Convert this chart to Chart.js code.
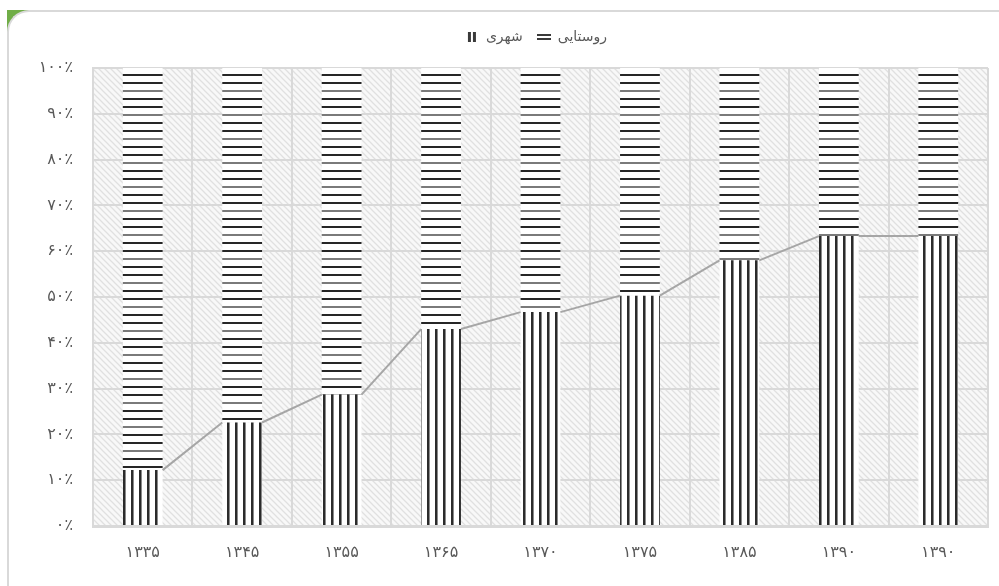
<!DOCTYPE html>
<html lang="fa">
<head>
    <meta charset="UTF-8">
    <title>شهری و روستایی</title>
    <style>
        body {
            margin: 0;
            background: #ffffff;
            overflow: hidden;
        }
        .corner {
            position: absolute;
            left: 7px;
            top: 10px;
            width: 22px;
            height: 22px;
            background: #70ad47;
        }
        .card {
            position: absolute;
            left: 7px;
            top: 10px;
            width: 1010px;
            height: 600px;
            background: #ffffff;
            border-left: 2px solid #d9d9d9;
            border-top: 2px solid #d9d9d9;
            border-top-left-radius: 22px;
        }
        #chart {
            position: absolute;
            left: 0;
            top: 0;
        }
    </style>
</head>
<body>
    <div class="corner"></div>
    <div class="card"></div>
    <canvas id="chart" width="999" height="586"></canvas>
    <script src="https://cdn.jsdelivr.net/npm/chart.js"></script>
    <script>
        // census years (Persian calendar) – the last one appears twice in the source
        const years = ['۱۳۳۵', '۱۳۴۵', '۱۳۵۵', '۱۳۶۵', '۱۳۷۰', '۱۳۷۵', '۱۳۸۵', '۱۳۹۰', '۱۳۹۰'];
        const urbanShare = [12.2, 22.6, 28.7, 43, 46.7, 50.3, 58, 63.3, 63.3];
        const ruralShare = [87.8, 77.4, 71.3, 57, 53.3, 49.7, 42, 36.7, 36.7];
        const yTickLabels = ['۰٪', '۱۰٪', '۲۰٪', '۳۰٪', '۴۰٪', '۵۰٪', '۶۰٪', '۷۰٪', '۸۰٪', '۹۰٪', '۱۰۰٪'];

        const canvas = document.getElementById('chart');
        const ctx = canvas.getContext('2d');

        function makeCanvas(w, h, draw) {
            const c = document.createElement('canvas');
            c.width = w;
            c.height = h;
            draw(c.getContext('2d'));
            return c;
        }

        // vertical stripes for urban
        const urbanFill = ctx.createPattern(makeCanvas(8, 8, g => {
            g.fillStyle = '#ffffff';
            g.fillRect(0, 0, 8, 8);
            g.fillStyle = '#2b2b2b';
            g.fillRect(3, 0, 2, 8);
            g.fillStyle = '#8a8a8a';
            g.fillRect(5, 0, 1, 8);
        }), 'repeat');

        // horizontal stripes for rural
        const ruralFill = ctx.createPattern(makeCanvas(8, 24, g => {
            g.fillStyle = '#ffffff';
            g.fillRect(0, 0, 8, 24);
            g.fillStyle = '#262626';
            g.fillRect(0, 2, 8, 2);
            g.fillRect(0, 10, 8, 2);
            g.fillStyle = '#7a7a7a';
            g.fillRect(0, 18, 8, 2);
        }), 'repeat');

        // little legend icons
        const urbanIcon = makeCanvas(12, 12, g => {
            g.fillStyle = '#3a3a3a';
            g.fillRect(2, 1, 3, 10);
            g.fillRect(7, 1, 3, 10);
        });
        const ruralIcon = makeCanvas(14, 12, g => {
            g.fillStyle = '#3a3a3a';
            g.fillRect(0, 3, 14, 2);
            g.fillRect(0, 7, 14, 2);
        });

        // light diagonal hatch behind the plot
        const hatch = ctx.createPattern(makeCanvas(6, 6, g => {
            g.fillStyle = '#f8f8f8';
            g.fillRect(0, 0, 6, 6);
            g.strokeStyle = '#e0e0e0';
            g.lineWidth = 1.3;
            g.beginPath();
            g.moveTo(-1, -1);
            g.lineTo(7, 7);
            g.moveTo(-4, 2);
            g.lineTo(1, 7);
            g.moveTo(2, -4);
            g.lineTo(7, 1);
            g.stroke();
        }), 'repeat');

        const plotBackground = {
            id: 'plotBackground',
            beforeDraw(chart) {
                const a = chart.chartArea;
                const c = chart.ctx;
                c.save();
                c.fillStyle = hatch;
                c.fillRect(a.left, a.top, a.right - a.left, a.bottom - a.top);
                c.restore();
            }
        };

        // extra room under the legend and nudge it to where Excel had it
        const legendSpacing = {
            id: 'legendSpacing',
            beforeLayout(chart) {
                const lg = chart.legend;
                if (lg && !lg._patched) {
                    const fit = lg.fit;
                    lg.fit = function () {
                        fit.call(this);
                        this.height += 14;
                    };
                    lg._patched = true;
                }
            },
            afterLayout(chart) {
                if (chart.legend) chart.legend.left += 84;
            }
        };

        // Excel-style series lines joining the tops of the urban bars
        const seriesLines = {
            id: 'seriesLines',
            afterDatasetsDraw(chart) {
                const bars = chart.getDatasetMeta(0).data;
                const c = chart.ctx;
                c.save();
                c.strokeStyle = '#a6a6a6';
                c.lineWidth = 2;
                c.beginPath();
                for (let i = 0; i < bars.length - 1; i++) {
                    const a = bars[i], b = bars[i + 1];
                    c.moveTo(a.x + a.width / 2, a.y);
                    c.lineTo(b.x - b.width / 2, b.y);
                }
                c.stroke();
                c.restore();
            }
        };

        new Chart(ctx, {
            type: 'bar',
            data: {
                labels: years,
                datasets: [
                    {
                        label: 'شهری',
                        data: urbanShare,
                        backgroundColor: urbanFill,
                        borderWidth: 0,
                        barPercentage: 0.4,
                        categoryPercentage: 1
                    },
                    {
                        label: 'روستایی',
                        data: ruralShare,
                        backgroundColor: ruralFill,
                        borderWidth: 0,
                        barPercentage: 0.4,
                        categoryPercentage: 1
                    }
                ]
            },
            options: {
                responsive: false,
                animation: false,
                layout: {
                    padding: { left: 0, right: 11, top: 16, bottom: 0 }
                },
                plugins: {
                    legend: {
                        position: 'top',
                        labels: {
                            usePointStyle: true,
                            padding: 14,
                            color: '#595959',
                            font: { family: 'DejaVu Sans', size: 14 },
                            generateLabels(chart) {
                                const icons = [urbanIcon, ruralIcon];
                                return chart.data.datasets.map((ds, i) => ({
                                    text: ds.label,
                                    fontColor: '#595959',
                                    pointStyle: icons[i],
                                    lineWidth: 0,
                                    strokeStyle: 'transparent',
                                    fillStyle: 'transparent',
                                    datasetIndex: i,
                                    hidden: false
                                }));
                            }
                        }
                    },
                    tooltip: { enabled: false }
                },
                scales: {
                    x: {
                        stacked: true,
                        grid: { color: '#d9d9d9', lineWidth: 2, drawTicks: false, offset: true },
                        border: { color: '#d9d9d9', width: 3 },
                        ticks: {
                            color: '#595959',
                            font: { family: 'DejaVu Sans', size: 16 },
                            padding: 17
                        },
                        afterFit(scale) { scale.height = 60; }
                    },
                    y: {
                        stacked: true,
                        min: 0,
                        max: 100,
                        grid: { color: '#d9d9d9', lineWidth: 2, drawTicks: false },
                        border: { color: '#d9d9d9', width: 2 },
                        ticks: {
                            stepSize: 10,
                            color: '#595959',
                            font: { family: 'DejaVu Sans', size: 16 },
                            padding: 20,
                            callback: (v, i) => yTickLabels[i]
                        },
                        afterFit(scale) { scale.width = 93; }
                    }
                }
            },
            plugins: [plotBackground, legendSpacing, seriesLines]
        });
    </script>
</body>
</html>
